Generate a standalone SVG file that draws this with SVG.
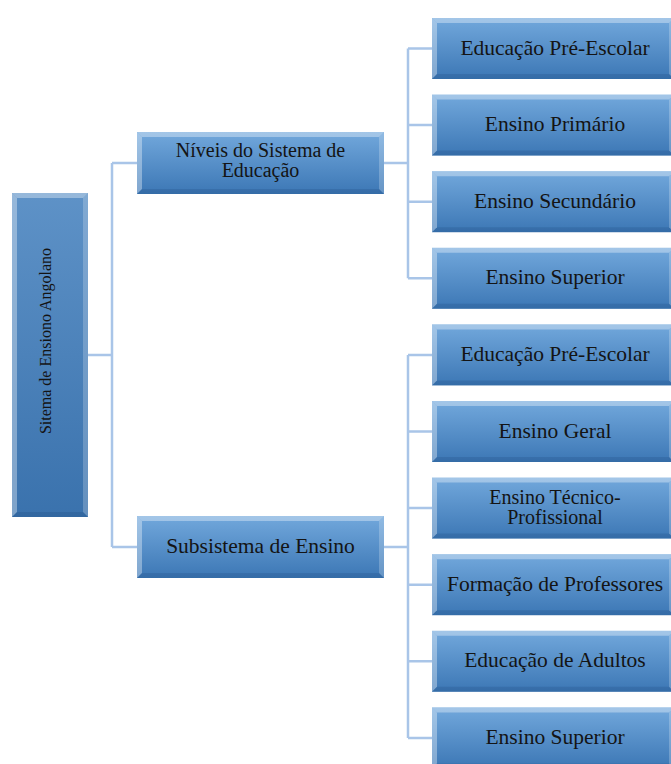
<svg xmlns="http://www.w3.org/2000/svg" xmlns:xlink="http://www.w3.org/1999/xlink" width="671" height="764" viewBox="0 0 671 764">
  <style>
    text { font-family: "Liberation Serif", "DejaVu Serif", serif; }
    .lbl { font-size: 21.5px; fill: #141414; text-anchor: middle; }
    .two { font-size: 20px; }
    .root-lbl { font-size: 16px; }
    .wire { fill: none; stroke: #a9c5e8; stroke-width: 2.5; }
    .hi { fill: #ffffff; opacity: 0.35; }
    .hi2 { fill: #ffffff; opacity: 0.22; }
    .sh { fill: #0a2a55; opacity: 0.14; }
  </style>
  <defs>
    <linearGradient id="boxFill" x1="0" y1="0" x2="0" y2="1">
      <stop offset="0" stop-color="#72a8dc"/>
      <stop offset="1" stop-color="#3c77b5"/>
    </linearGradient>
    <linearGradient id="rootFill" x1="0" y1="0" x2="0" y2="1">
      <stop offset="0" stop-color="#5e92c7"/>
      <stop offset="1" stop-color="#3a72ad"/>
    </linearGradient>
    <!-- bevelled box, 242 x 61 -->
    <symbol id="leaf" overflow="visible">
      <rect x="0" y="0" width="242" height="61" fill="url(#boxFill)"/>
      <polygon class="hi" points="0,0 242,0 237,5 5,5"/>
      <polygon class="hi" points="0,0 5,5 5,56 0,61"/>
      <polygon class="hi2" points="242,0 242,61 237,56 237,5"/>
      <polygon class="sh" points="0,61 242,61 237,56 5,56"/>
    </symbol>
    <!-- bevelled box, 247 x 62 -->
    <symbol id="mid" overflow="visible">
      <rect x="0" y="0" width="247" height="62" fill="url(#boxFill)"/>
      <polygon class="hi" points="0,0 247,0 242,5 5,5"/>
      <polygon class="hi" points="0,0 5,5 5,57 0,62"/>
      <polygon class="hi2" points="247,0 247,62 242,57 242,5"/>
      <polygon class="sh" points="0,62 247,62 242,57 5,57"/>
    </symbol>
  </defs>

  <!-- connectors -->
  <g id="connectors">
    <path class="wire" d="M88,355 H112 M112,163 V547 M112,163 H137 M112,547 H137"/>
    <path class="wire" d="M384,163 H408 M408,48.5 V278.3 M408,48.5 H432 M408,125.1 H432 M408,201.7 H432 M408,278.3 H432"/>
    <path class="wire" d="M384,547 H408 M408,354.9 V737.9 M408,354.9 H432 M408,431.5 H432 M408,508.1 H432 M408,584.7 H432 M408,661.3 H432 M408,737.9 H432"/>
  </g>

  <!-- root -->
  <g id="root">
    <rect x="12" y="193" width="76" height="324" fill="url(#rootFill)"/>
    <polygon class="hi" points="12,193 88,193 83,198 17,198"/>
    <polygon class="hi" points="12,193 17,198 17,512 12,517"/>
    <polygon class="hi2" points="88,193 88,517 83,512 83,198"/>
    <polygon class="sh" points="12,517 88,517 83,512 17,512"/>
    <text class="lbl root-lbl" transform="translate(51,341) rotate(-90)" x="0" y="0">Sitema de Ensiono Angolano</text>
  </g>

  <!-- second level -->
  <g id="niveis">
    <use xlink:href="#mid" x="137" y="132"/>
    <text class="lbl two" x="260.5" y="157">Níveis do Sistema de</text>
    <text class="lbl two" x="260.5" y="177">Educação</text>
  </g>
  <g id="subsistema">
    <use xlink:href="#mid" x="137" y="516"/>
    <text class="lbl" x="260.5" y="553">Subsistema de Ensino</text>
  </g>

  <!-- levels -->
  <g id="n-pre-escolar">
    <use xlink:href="#leaf" x="432" y="18"/>
    <text class="lbl" x="555" y="54.5">Educação Pré-Escolar</text>
  </g>
  <g id="n-primario">
    <use xlink:href="#leaf" x="432" y="94.6"/>
    <text class="lbl" x="555" y="131.1">Ensino Primário</text>
  </g>
  <g id="n-secundario">
    <use xlink:href="#leaf" x="432" y="171.2"/>
    <text class="lbl" x="555" y="207.7">Ensino Secundário</text>
  </g>
  <g id="n-superior">
    <use xlink:href="#leaf" x="432" y="247.8"/>
    <text class="lbl" x="555" y="284.3">Ensino Superior</text>
  </g>

  <!-- subsystems -->
  <g id="s-pre-escolar">
    <use xlink:href="#leaf" x="432" y="324.4"/>
    <text class="lbl" x="555" y="360.9">Educação Pré-Escolar</text>
  </g>
  <g id="s-geral">
    <use xlink:href="#leaf" x="432" y="401"/>
    <text class="lbl" x="555" y="437.5">Ensino Geral</text>
  </g>
  <g id="s-tecnico">
    <use xlink:href="#leaf" x="432" y="477.6"/>
    <text class="lbl two" x="555" y="504">Ensino Técnico-</text>
    <text class="lbl two" x="555" y="524">Profissional</text>
  </g>
  <g id="s-professores">
    <use xlink:href="#leaf" x="432" y="554.2"/>
    <text class="lbl" x="555" y="590.7">Formação de Professores</text>
  </g>
  <g id="s-adultos">
    <use xlink:href="#leaf" x="432" y="630.8"/>
    <text class="lbl" x="555" y="667.3">Educação de Adultos</text>
  </g>
  <g id="s-superior">
    <use xlink:href="#leaf" x="432" y="707.4"/>
    <text class="lbl" x="555" y="743.9">Ensino Superior</text>
  </g>
</svg>
